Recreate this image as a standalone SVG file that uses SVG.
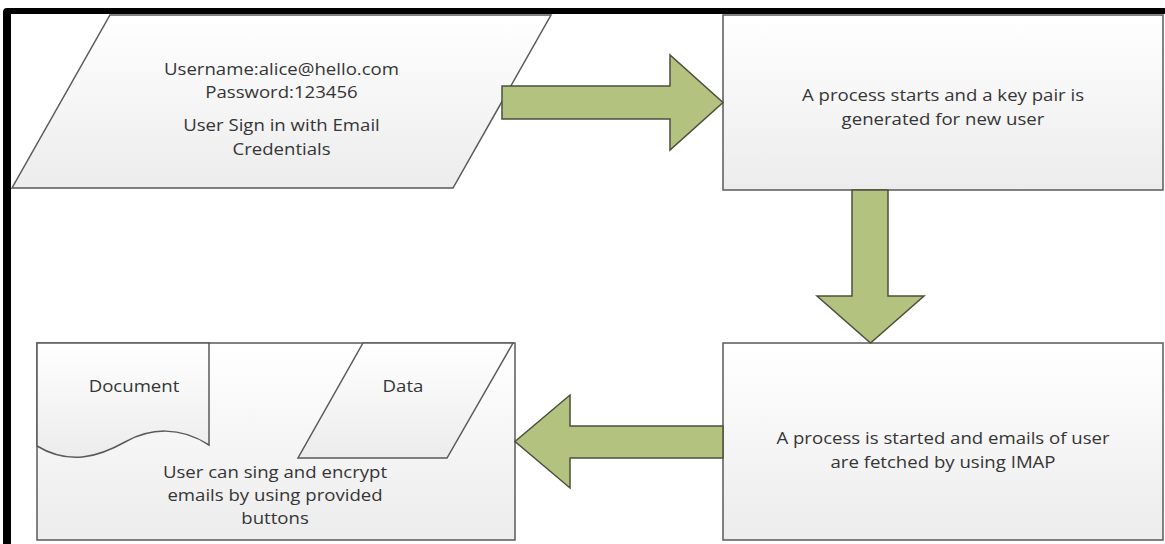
<svg xmlns="http://www.w3.org/2000/svg" width="1165" height="544" viewBox="0 0 1165 544">
  <defs>
    <linearGradient id="shapeFill" x1="0" y1="0" x2="0" y2="1">
      <stop offset="0" stop-color="#ffffff"/>
      <stop offset="1" stop-color="#ececec"/>
    </linearGradient>
    <style>
      .shape { fill: url(#shapeFill); stroke: #5a5a5a; stroke-width: 1.5; stroke-linejoin: miter; }
      .arrow { fill: #b4c280; stroke: #4b4f3c; stroke-width: 1.5; stroke-linejoin: miter; }
      .label { font-family: "Open Sans", "Liberation Sans", sans-serif; font-size: 15.5px; fill: #353535; text-anchor: middle; }
    </style>
  </defs>

  <rect x="0" y="0" width="1165" height="544" fill="#ffffff"/>

  <!-- page frame (top and left edges) -->
  <path d="M3,544 V12 Q3,8 7,8 H1165 V14 H11 V544 Z" fill="#000000"/>

  <!-- sign-in input -->
  <g id="signin">
    <polygon class="shape" points="110,15 551,15 453,188 12,188"/>
    <text class="label" transform="matrix(1.2 0 0 1 281.5 0)" x="0" y="75">Username:alice@hello.com</text>
    <text class="label" transform="matrix(1.2 0 0 1 281.5 0)" x="0" y="98">Password:123456</text>
    <text class="label" transform="matrix(1.2 0 0 1 281.5 0)" x="0" y="131">User Sign in with Email</text>
    <text class="label" transform="matrix(1.2 0 0 1 281.5 0)" x="0" y="155">Credentials</text>
  </g>

  <!-- key pair generation -->
  <g id="keygen">
    <rect class="shape" x="723" y="15" width="440" height="175"/>
    <text class="label" transform="matrix(1.2 0 0 1 943 0)" x="0" y="101">A process starts and a key pair is</text>
    <text class="label" transform="matrix(1.2 0 0 1 943 0)" x="0" y="125">generated for new user</text>
  </g>

  <!-- IMAP fetch -->
  <g id="fetch">
    <rect class="shape" x="723" y="343" width="440" height="197"/>
    <text class="label" transform="matrix(1.2 0 0 1 943 0)" x="0" y="444">A process is started and emails of user</text>
    <text class="label" transform="matrix(1.2 0 0 1 943 0)" x="0" y="468">are fetched by using IMAP</text>
  </g>

  <!-- sign / encrypt view -->
  <g id="mailview">
    <rect class="shape" x="37" y="343" width="478" height="197"/>
    <path class="shape" d="M37,343 H209 V445 C180,426 150,428 125,442 C100,456 70,466 37,446 Z"/>
    <polygon class="shape" points="363,343 513,343 447,458 298,458"/>
    <text class="label" transform="matrix(1.2 0 0 1 134 0)" x="0" y="392">Document</text>
    <text class="label" transform="matrix(1.2 0 0 1 403 0)" x="0" y="392">Data</text>
    <text class="label" transform="matrix(1.2 0 0 1 275 0)" x="0" y="478">User can sing and encrypt</text>
    <text class="label" transform="matrix(1.2 0 0 1 275 0)" x="0" y="501">emails by using provided</text>
    <text class="label" transform="matrix(1.2 0 0 1 275 0)" x="0" y="524">buttons</text>
  </g>

  <!-- block arrows between steps -->
  <g id="connectors">
    <polygon class="arrow" points="502,86 670,86 670,55 723,102.5 670,150 670,119 502,119"/>
    <polygon class="arrow" points="852,190 888,190 888,296 924,296 870.5,343 817,296 852,296"/>
    <polygon class="arrow" points="723,426 570,426 570,395 515,441.5 570,488 570,458 723,458"/>
  </g>
</svg>
